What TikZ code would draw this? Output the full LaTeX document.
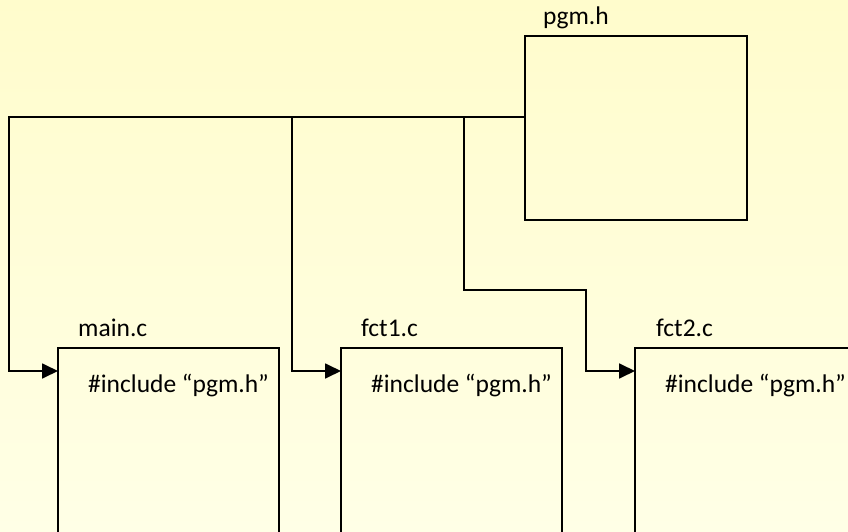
\documentclass[tikz,border=0pt]{standalone}
\usepackage{fontspec}
\setmainfont{Carlito}
\usetikzlibrary{%
	calc,%
	arrows.meta,%
	positioning,%
}
\definecolor{cbgtop}{RGB}{255, 252, 204}
\definecolor{cbgbottom}{RGB}{255, 255, 230}
\tikzset{
	>={Triangle[length=16pt,width=15pt]},%
	filenode/.style={%
			draw,%
			rectangle,%
			line width=1.8pt,%
			outer sep=0pt,%
			minimum width=221pt,%
			minimum height=210pt},%
	filename/.style={%
			anchor=base west,%
			inner sep=0pt},%
	codeline/.style={%
			anchor=base west,%
			inner sep=0pt},%
	conn/.style={%
			->,%
			line width=1.8pt},%
}
\begin{document}
\begin{tikzpicture}[x=1pt, y=1pt, nodes={font={\fontsize{25.5}{30}\selectfont}}]%
	\useasboundingbox (0,0) rectangle (848,531);
	\clip (0,0) rectangle (848,531);
	\shade[top color=cbgtop, bottom color=cbgbottom] (0,0) rectangle (848,531);

	\node[filenode, anchor=north west, minimum width=222pt, minimum height=184pt] (pgmh) at (525,495) {};
	\node[filename] (pgmhlbl) at ($(pgmh.north west)+(18,11)$) {pgm.h};

	\node[filenode, anchor=north west] (mainc) at (58,183) {};
	\node[filenode] (fcta) [right=62pt of mainc] {};
	\node[filenode] (fctb) [right=73pt of fcta] {};

	\node[filename] (mainclbl) at ($(mainc.north west)+(20,12)$) {main.c};
	\node[filename] (fctalbl) at ($(fcta.north west)+(20,12)$) {fct1.c};
	\node[filename] (fctblbl) at ($(fctb.north west)+(21,12)$) {fct2.c};

	\node[codeline] (maininc) at ($(mainc.north west)+(30,-44)$) {\#include “pgm.h”};
	\node[codeline] (fctainc) at ($(fcta.north west)+(30,-44)$) {\#include “pgm.h”};
	\node[codeline] (fctbinc) at ($(fctb.north west)+(30,-44)$) {\#include “pgm.h”};

	\coordinate (bus) at ($(pgmh.north west)+(0,-81)$);
	\draw[conn] (bus) -| ($(mainc.north west)+(-49,-23)$) to ($(mainc.north west)+(0,-23)$);
	\draw[conn] (bus) -| ($(fcta.north west)+(-49,-23)$) to ($(fcta.north west)+(0,-23)$);
	\draw[conn] ($(bus)+(-61,0)$) -- ++(0,-173) -| ($(fctb.north west)+(-49,-23)$) to ($(fctb.north west)+(0,-23)$);
\end{tikzpicture}
\end{document}
